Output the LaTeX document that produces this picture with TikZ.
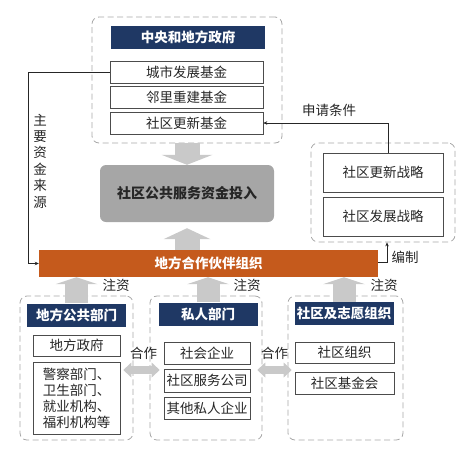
\documentclass[tikz,border=0pt]{standalone}
\usepackage{fontspec}
\setmainfont{Noto Sans CJK SC}
\usetikzlibrary{arrows.meta}
\definecolor{navy}{HTML}{1F3864}
\definecolor{rust}{HTML}{C55A1C}
\definecolor{boxgray}{HTML}{A6A6A6}
\definecolor{arrowgray}{HTML}{C9C9C9}
\definecolor{framegray}{HTML}{A6A6A6}
\definecolor{ink}{HTML}{262626}

\begin{document}
\begin{tikzpicture}[x=1pt,y=-1pt,
  font=\fontsize{13.5}{16}\selectfont, text=ink,
  panel/.style={draw=framegray,line width=0.8pt,dash pattern=on 6pt off 3.5pt,rounded corners=7pt,inner sep=0pt},
  head/.style={fill=navy,text=white,font=\fontsize{13.5}{16}\selectfont\bfseries,minimum width=99pt,minimum height=23pt,inner sep=0pt},
  item/.style={draw=black!70,line width=0.6pt,fill=white,minimum height=22pt,inner sep=0pt},
  thinarrow/.style={draw=black!85,line width=0.6pt,-{Stealth[length=4pt,width=3.5pt]}},
  blockup/.style={draw=arrowgray,line width=23pt,-{Triangle[width=42pt,length=7pt,line width=0pt]}},
  blockduo/.style={draw=arrowgray,line width=8pt,{Triangle[width=15pt,length=8pt,line width=0pt]}-{Triangle[width=15pt,length=8pt,line width=0pt]}}
]
\useasboundingbox (0,0) rectangle (471,451);

% dashed groups
\node[panel,minimum width=190pt,minimum height=126pt] (gov) at (187,80) {};
\node[panel,minimum width=144pt,minimum height=99pt] (rpanel) at (383,192.5) {};
\node[panel,minimum width=113pt,minimum height=144pt] (pubpanel) at (76.5,368) {};
\node[panel,minimum width=112pt,minimum height=144pt] (privpanel) at (206,368) {};
\node[panel,minimum width=115pt,minimum height=144pt] (companel) at (345.5,368) {};

% government and funds
\node[head,minimum width=154pt] (govhead) at (188,37.5) {中央和地方政府};
\node[item,minimum width=153pt] (fund1) at (186.5,72) {城市发展基金};
\node[item,minimum width=153pt] (fund2) at (186.5,97.5) {邻里重建基金};
\node[item,minimum width=153pt] (fund3) at (186.5,123) {社区更新基金};

% centre
\node[fill=boxgray,rounded corners=6pt,minimum width=174pt,minimum height=57pt,font=\fontsize{14}{16}\selectfont\bfseries] (invest) at (187,193.5) {社区公共服务资金投入};
\node[fill=rust,text=white,minimum width=339pt,minimum height=27pt,font=\fontsize{13.5}{16}\selectfont\bfseries] (bar) at (208.5,263.5) {地方合作伙伴组织};

% strategies
\node[item,minimum width=120pt,minimum height=39pt] (strat1) at (383,172.5) {社区更新战略};
\node[item,minimum width=120pt,minimum height=39pt] (strat2) at (383,216.5) {社区发展战略};

% three sectors
\node[head] (pubhead) at (76.5,315) {地方公共部门};
\node[head] (privhead) at (208,314) {私人部门};
\node[head] (comhead) at (344,313.5) {社区及志愿组织};

\node[item,minimum width=87pt,minimum height=21pt] (lgov) at (76.5,345.5) {地方政府};
\node[item,minimum width=87pt,minimum height=72pt,align=left] (police) at (76.5,398) {警察部门、\\卫生部门、\\就业机构、\\福利机构等};

\node[item,minimum width=86pt] (sbiz) at (207,353.5) {社会企业};
\node[item,minimum width=86pt,minimum height=23pt] (scomp) at (207,380.5) {社区服务公司};
\node[item,minimum width=86pt] (opriv) at (207,408) {其他私人企业};

\node[item,minimum width=99pt,minimum height=21pt] (rorg) at (344.5,352.5) {社区组织};
\node[item,minimum width=99pt] (rfund) at (344.5,383) {社区基金会};

% block arrows
\draw[draw=arrowgray,line width=25pt,-{Triangle[width=51pt,length=10pt,line width=0pt]}] (gov.south) -- (invest.north);
\draw[draw=arrowgray,line width=25pt,-{Triangle[width=47pt,length=11pt,line width=0pt]},shorten >=6pt] (invest.south |- bar.north) -- (invest.south);
\foreach \h in {pubhead,privhead,comhead}
  \draw[blockup] (\h.north) -- (\h.north |- bar.south);

\coordinate (coop) at (0,370);
\draw[blockduo,shorten <=3pt,shorten >=4pt] (police.east |- coop) -- (sbiz.west |- coop);
\draw[blockduo,shorten <=7pt,shorten >=3pt] (sbiz.east |- coop) -- (rorg.west |- coop);
\node (coop1) at (143.5,353) {合作};
\node (coop2) at (274.5,353) {合作};

\foreach \x/\n in {116/inv1,247/inv2,384/inv3}
  \node (\n) at (\x,285.5) {注资};

% thin connectors
\coordinate (trunk) at (28,0);
\draw[thinarrow] (fund1.west) -| (trunk |- bar.west) -- (bar.west);
\node[align=center,font=\fontsize{13.5}{16.4}\selectfont] (srclabel) at (40,161) {主\\要\\资\\金\\来\\源};

\draw[thinarrow] ([xshift=5pt]strat1.north) |- (fund3.east);
\node (apply) at (329,110) {申请条件};

\draw[thinarrow] ([yshift=1.5pt]bar.east) -| ([xshift=4pt]rpanel.south);
\node (compile) at (405,257) {编制};
\end{tikzpicture}
\end{document}
